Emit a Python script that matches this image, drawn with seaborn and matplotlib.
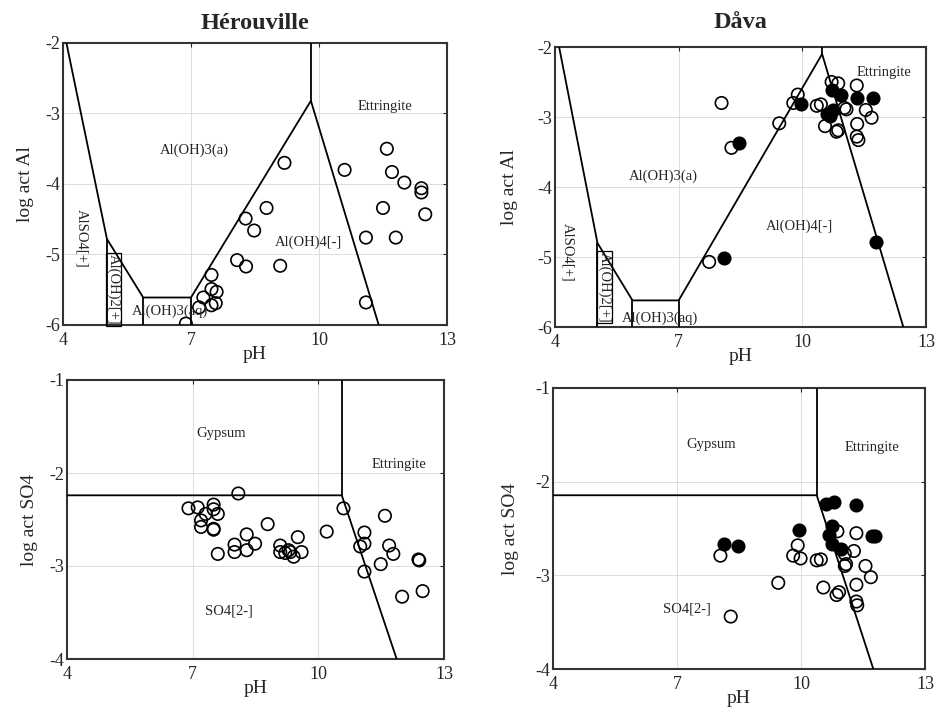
import matplotlib
matplotlib.use("Agg")
import matplotlib.pyplot as plt
import seaborn as sns
import pandas as pd

sns.set_style("white")
plt.rcParams["font.family"] = ["Liberation Serif", "DejaVu Serif"]
plt.rcParams["axes.unicode_minus"] = False

# ---------------- data ----------------
titles = ["Hérouville", "Dåva"]

# Hérouville, Al panel (open circles)
her_al_ph = [9.19, 10.60, 11.59, 11.71, 12.00, 12.40, 12.40, 11.50, 12.49, 11.10, 11.80, 11.10,
             8.77, 8.28, 8.48, 8.08, 8.29, 9.09, 7.48, 7.48, 7.60, 7.29, 7.58, 7.19, 7.48, 6.88]
her_al_log = [-3.70, -3.80, -3.50, -3.83, -3.98, -4.06, -4.12, -4.34, -4.43, -4.76, -4.76, -5.68,
              -4.34, -4.49, -4.66, -5.08, -5.17, -5.16, -5.29, -5.49, -5.53, -5.61, -5.69, -5.75, -5.72, -5.98]

# Dåva, Al panel
dava_al_open_ph = [8.04, 8.28, 7.74, 9.44, 9.89, 9.78, 10.35, 10.45, 10.71, 10.87, 11.32, 10.55,
                   10.87, 10.83, 11.07, 11.02, 11.54, 11.68, 11.33, 11.32, 11.36]
dava_al_open_log = [-2.80, -3.44, -5.07, -3.09, -2.68, -2.80, -2.84, -2.82, -2.50, -2.52, -2.55, -3.13,
                    -3.19, -3.21, -2.89, -2.87, -2.90, -3.01, -3.10, -3.28, -3.33]
dava_al_fill_ph = [8.47, 8.11, 9.97, 10.71, 10.95, 11.32, 11.72, 10.59, 10.75, 10.67, 11.78]
dava_al_fill_log = [-3.37, -5.02, -2.82, -2.62, -2.68, -2.73, -2.73, -2.95, -2.90, -2.98, -4.79]

# Hérouville, SO4 panel (open circles)
her_so4_ph = [6.90, 7.12, 7.31, 7.20, 7.20, 7.50, 7.50, 7.60, 7.50, 7.50, 7.60, 8.09, 8.00, 8.00,
              8.29, 8.29, 8.49, 8.79, 9.09, 9.09, 9.21, 9.29, 9.33, 9.41, 9.51, 9.60, 10.20, 10.60,
              11.10, 11.10, 11.00, 11.10, 11.59, 11.69, 11.79, 11.49, 12.00, 12.39, 12.41, 12.49]
her_so4_log = [-2.38, -2.37, -2.44, -2.51, -2.58, -2.34, -2.39, -2.44, -2.60, -2.61, -2.87, -2.22, -2.77, -2.85,
               -2.66, -2.83, -2.76, -2.55, -2.78, -2.85, -2.86, -2.83, -2.85, -2.90, -2.69, -2.85, -2.63, -2.38,
               -2.64, -2.76, -2.79, -3.06, -2.46, -2.78, -2.87, -2.98, -3.33, -2.93, -2.94, -3.27]

# Dåva, SO4 panel
dava_so4_fill_ph = [8.13, 8.48, 9.96, 10.60, 10.80, 11.34, 10.74, 10.68, 10.76, 10.96, 11.71, 11.79]
dava_so4_fill_log = [-2.67, -2.69, -2.52, -2.24, -2.22, -2.25, -2.47, -2.57, -2.67, -2.72, -2.58, -2.58]
dava_so4_open_ph = [8.05, 8.30, 9.45, 9.92, 9.81, 9.99, 10.38, 10.48, 10.54, 10.86, 10.92, 10.88,
                    11.06, 11.09, 11.06, 11.28, 11.34, 11.56, 11.69, 11.34, 11.34, 11.36]
dava_so4_open_log = [-2.79, -3.44, -3.08, -2.68, -2.79, -2.82, -2.84, -2.83, -3.13, -3.21, -3.18, -2.53,
                     -2.77, -2.88, -2.90, -2.74, -2.55, -2.90, -3.02, -3.10, -3.28, -3.32]

# Phase boundaries (pH, log act) polylines
her_al_bounds = [
    ([4.08, 5.03, 5.88, 7.00, 9.81, 11.40], [-2.0, -4.78, -5.61, -5.61, -2.82, -6.0]),
    ([5.03, 5.03], [-4.78, -6.0]),
    ([5.88, 5.88], [-5.61, -6.0]),
    ([7.00, 7.00], [-5.61, -6.0]),
    ([9.81, 9.81], [-2.82, -2.0]),
]
dava_al_bounds = [
    ([4.10, 5.03, 5.88, 7.00, 10.48, 12.45], [-2.0, -4.80, -5.62, -5.62, -2.10, -6.0]),
    ([5.03, 5.03], [-4.80, -6.0]),
    ([5.88, 5.88], [-5.62, -6.0]),
    ([7.00, 7.00], [-5.62, -6.0]),
    ([10.48, 10.48], [-2.10, -2.0]),
]
her_so4_bounds = [
    ([4.0, 10.56, 11.87], [-2.24, -2.24, -4.0]),
    ([10.56, 10.56], [-2.24, -1.0]),
]
dava_so4_bounds = [
    ([4.0, 10.38, 11.75], [-2.145, -2.145, -4.0]),
    ([10.38, 10.38], [-2.145, -1.0]),
]

# Field labels: (text, pH, log, rotation, boxed)
her_al_labels = [("Al(OH)3(a)", 7.07, -3.52, 0, False), ("Al(OH)4[-]", 9.75, -4.82, 0, False),
                 ("Ettringite", 11.55, -2.90, 0, False), ("AlSO4[+]", 4.45, -4.77, 270, False),
                 ("Al(OH)2[+]", 5.19, -5.50, 270, True), ("Al(OH)3(aq)", 6.50, -5.80, 0, False)]
dava_al_labels = [("Al(OH)3(a)", 6.63, -3.84, 0, False), ("Al(OH)4[-]", 9.94, -4.56, 0, False),
                  ("Ettringite", 11.98, -2.37, 0, False), ("AlSO4[+]", 4.32, -4.93, 270, False),
                  ("Al(OH)2[+]", 5.21, -5.43, 270, True), ("Al(OH)3(aq)", 6.55, -5.88, 0, False)]
her_so4_labels = [("Gypsum", 7.67, -1.57, 0, False), ("Ettringite", 11.93, -1.91, 0, False),
                  ("SO4[2-]", 7.86, -3.48, 0, False)]
dava_so4_labels = [("Gypsum", 7.83, -1.60, 0, False), ("Ettringite", 11.72, -1.64, 0, False),
                   ("SO4[2-]", 7.23, -3.36, 0, False)]

# ---------------- figure ----------------
fig = plt.figure(figsize=(9.37, 7.08), dpi=100)
W, H = 937, 708
def add_ax(l, t, r, b):
    return fig.add_axes([l / W, 1 - b / H, (r - l) / W, (b - t) / H])

ax1 = add_ax(63, 43, 447, 325)
ax2 = add_ax(555, 47, 926, 327)
ax3 = add_ax(67, 380, 444, 659)
ax4 = add_ax(553, 388, 925, 669)

MS = 80
def open_pts(ax, x, y):
    sns.scatterplot(x=x, y=y, ax=ax, marker="o", s=MS, facecolors="none",
                    edgecolor="black", linewidth=1.2, zorder=4)

def fill_pts(ax, x, y):
    sns.scatterplot(x=x, y=y, ax=ax, marker="o", s=MS, color="black",
                    edgecolor="black", linewidth=1.2, zorder=5)

def setup(ax, ylim, yticks, ylabel, bounds, labels, ylabelpad=8):
    for xs, ys in bounds:
        ax.plot(xs, ys, color="black", lw=1.3, zorder=3)
    for txt, x, y, rot, boxed in labels:
        kw = {}
        if boxed:
            kw["bbox"] = dict(fc="none", ec="black", lw=0.9, pad=0.6)
        ax.text(x, y, txt, rotation=rot, ha="center", va="center", fontsize=10.5,
                zorder=6, **kw)
    ax.set_xlim(4, 13)
    ax.set_ylim(*ylim)
    ax.set_xticks([4, 7, 10, 13])
    ax.set_yticks(yticks)
    ax.set_xticklabels(["4", "7", "10", "13"])
    ax.set_yticklabels([str(v) for v in yticks])
    ax.grid(True, color="#dcdcdc", lw=0.7)
    ax.set_axisbelow(True)
    ax.tick_params(direction="in", length=3, labelsize=13, top=True, right=True,
                   pad=2, width=0.8)
    ax.tick_params(axis="x", pad=5)
    for s in ax.spines.values():
        s.set_linewidth(1.5)
        s.set_color("#333333")
    ax.set_xlabel("pH", fontsize=14, labelpad=-2)
    ax.set_ylabel(ylabel, fontsize=14, labelpad=ylabelpad)

open_pts(ax1, her_al_ph, her_al_log)
setup(ax1, (-6, -2), [-6, -5, -4, -3, -2], "log act Al", her_al_bounds, her_al_labels)

open_pts(ax2, dava_al_open_ph, dava_al_open_log)
fill_pts(ax2, dava_al_fill_ph, dava_al_fill_log)
setup(ax2, (-6, -2), [-6, -5, -4, -3, -2], "log act Al", dava_al_bounds, dava_al_labels,
      ylabelpad=14)

open_pts(ax3, her_so4_ph, her_so4_log)
setup(ax3, (-4, -1), [-4, -3, -2, -1], "log act SO4", her_so4_bounds, her_so4_labels)

open_pts(ax4, dava_so4_open_ph, dava_so4_open_log)
fill_pts(ax4, dava_so4_fill_ph, dava_so4_fill_log)
setup(ax4, (-4, -1), [-4, -3, -2, -1], "log act SO4", dava_so4_bounds, dava_so4_labels,
      ylabelpad=12)

ax1.set_title(titles[0], fontsize=17.5, fontweight="bold", pad=10)
ax2.set_title(titles[1], fontsize=17.5, fontweight="bold", pad=14)

fig.savefig("out.png", dpi=100)
